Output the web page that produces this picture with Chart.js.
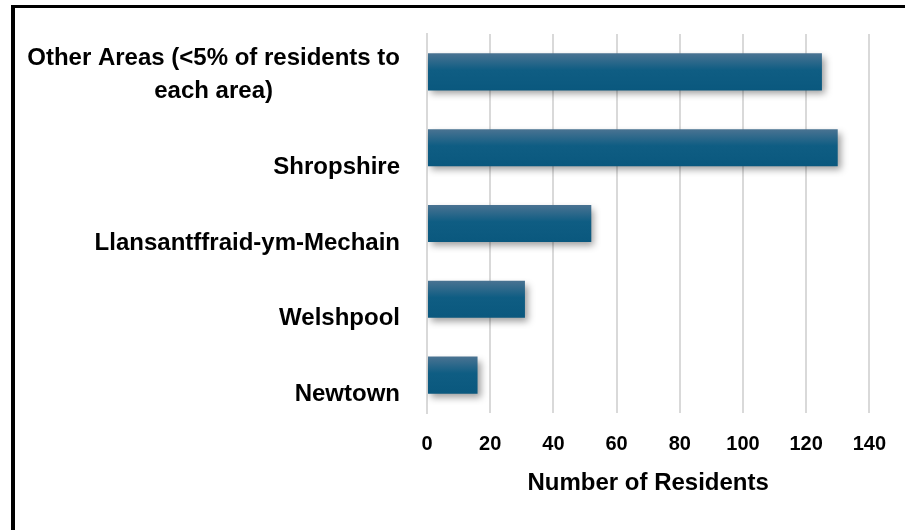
<!DOCTYPE html>
<html>
<head>
<meta charset="utf-8">
<script src="https://cdn.jsdelivr.net/npm/chart.js@4"></script>
<style>
  html, body { margin: 0; padding: 0; background: #fff; overflow: hidden; }
  #wrap { position: relative; width: 905px; height: 530px; }
  #residentsChart { position: absolute; left: 0; top: 0; }
  #frame { position: absolute; left: 11px; top: 5px; width: 1000px; height: 1000px;
           border-left: 4px solid #000; border-top: 3px solid #000; pointer-events: none; }
</style>
</head>
<body>
<div id="wrap">
  <canvas id="residentsChart" width="905" height="530"></canvas>
  <div id="frame"></div>
</div>
<script>
var areas = [
    ['Other Areas (<5% of residents to', 'each area)'],
    'Shropshire',
    'Llansantffraid-ym-Mechain',
    'Welshpool',
    'Newtown'
];
var residents = [125, 130, 52, 31, 16];
var xTicks = [0, 20, 40, 60, 80, 100, 120, 140];

document.addEventListener('DOMContentLoaded', function() {
    var fontFamily = '"Liberation Sans", Arial, sans-serif';
    var barPct = 0.49;

    // soft drop shadow under the bars
    var barShadow = {
        id: 'barShadow',
        beforeDatasetsDraw: function(chart) {
            var ctx = chart.ctx;
            ctx.save();
            ctx.shadowColor = 'rgba(0, 0, 0, 0.38)';
            ctx.shadowBlur = 7;
            ctx.shadowOffsetX = 3;
            ctx.shadowOffsetY = 4;
        },
        afterDatasetsDraw: function(chart) {
            chart.ctx.restore();
        }
    };

    // category labels: right aligned block, last line sits a bit below the bar centre,
    // wrapped lines stack upwards and are centred on each other
    var areaLabels = {
        id: 'areaLabels',
        afterDraw: function(chart) {
            var ctx = chart.ctx;
            var yScale = chart.scales.y;
            var right = chart.chartArea.left - 27;
            var lineH = 32.5;
            ctx.save();
            ctx.font = 'bold 24px ' + fontFamily;
            ctx.fillStyle = '#000';
            ctx.textAlign = 'center';
            ctx.textBaseline = 'alphabetic';
            areas.forEach(function(label, i) {
                var lines = Array.isArray(label) ? label : [label];
                var w = 0;
                lines.forEach(function(l) { w = Math.max(w, ctx.measureText(l).width); });
                var base = yScale.getPixelForValue(i) + 26;
                lines.forEach(function(l, k) {
                    ctx.fillText(l, right - w / 2, base - (lines.length - 1 - k) * lineH);
                });
            });
            ctx.restore();
        }
    };

    var ctx = document.getElementById('residentsChart').getContext('2d');
    var residentsChart = new Chart(ctx, {
        type: 'bar',
        data: {
            labels: areas,
            datasets: [{
                label: 'Number of Residents',
                data: residents,
                backgroundColor: function(c) {
                    var yScale = c.chart.scales.y;
                    if (!yScale || c.dataIndex === undefined) return '#0b5a80';
                    var mid = yScale.getPixelForValue(c.dataIndex);
                    var half = yScale.height / areas.length * barPct / 2;
                    if (!isFinite(mid) || !isFinite(half) || half <= 0) return '#0b5a80';
                    var g = c.chart.ctx.createLinearGradient(0, mid - half, 0, mid + half);
                    g.addColorStop(0, '#4a7392');
                    g.addColorStop(0.45, '#0f5d83');
                    g.addColorStop(1, '#0a587e');
                    return g;
                },
                borderWidth: 0,
                barPercentage: barPct,
                categoryPercentage: 1
            }]
        },
        plugins: [barShadow, areaLabels],
        options: {
            indexAxis: 'y',
            responsive: false,
            animation: false,
            layout: { padding: { top: 34, right: 35, left: 0, bottom: 0 } },
            plugins: {
                legend: { display: false },
                tooltip: { enabled: false }
            },
            scales: {
                x: {
                    min: 0,
                    max: 140,
                    afterBuildTicks: function(scale) {
                        scale.ticks = xTicks.map(function(v) { return { value: v }; });
                    },
                    afterFit: function(scale) { scale.height = 117; },
                    grid: { color: '#d9d9d9', lineWidth: 2, drawTicks: false },
                    border: { display: false },
                    ticks: {
                        color: '#000',
                        padding: 19,
                        font: { family: fontFamily, size: 20, weight: 'bold' }
                    },
                    title: {
                        display: true,
                        text: 'Number of Residents',
                        color: '#000',
                        padding: { top: 0, bottom: 32 },
                        font: { family: fontFamily, size: 24, weight: 'bold' }
                    }
                },
                y: {
                    afterFit: function(scale) { scale.width = 427; },
                    grid: { display: false },
                    border: { display: true, color: '#d9d9d9', width: 2 },
                    ticks: { display: false }
                }
            }
        }
    });
});
</script>
</body>
</html>
